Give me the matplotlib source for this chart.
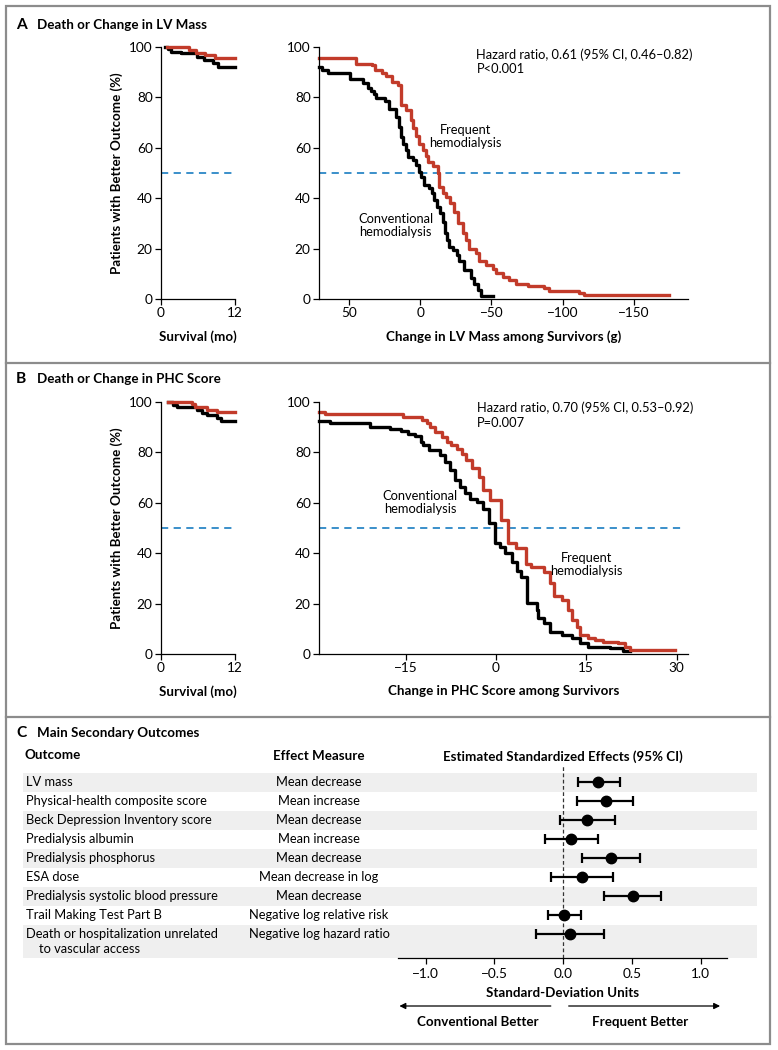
import matplotlib.pyplot as plt
import matplotlib.ticker as ticker
from matplotlib.patches import Rectangle
from matplotlib.transforms import blended_transform_factory

# ---- data ----
# panel A, survival part (months)
a_surv_freq_x = [0.9, 4.6, 5.6, 7.1, 8.7, 12]
a_surv_freq_y = [100, 98.8, 97.6, 96.8, 95.8, 95.8]
a_surv_conv_x = [0.6, 1.2, 1.7, 3.2, 5.8, 7.0, 8.4, 9.2, 12]
a_surv_conv_y = [100, 99.1, 98.2, 97.5, 96.2, 94.8, 93.5, 92.1, 92.1]

# panel A, change in LV mass (g)
a_freq_x = [70.9, 44.8, 34, 32, 27, 24, 20, 15.6, 13.3, 9.8, 6.3, 4.7, 2.8, 0.5, -1.9,
            -4.2, -5.4, -8.9, -12.4, -13.5, -15.9, -18.2, -21, -24, -26.3, -29.8, -32.2,
            -34, -39, -41.5, -46, -50.8, -53, -57.9, -62.6, -67.3, -75.5, -87.2, -90.7,
            -111.7, -115.2, -174.8]
a_freq_y = [95.6, 93.4, 92.7, 91, 89.7, 88.4, 86, 84.8, 77, 75, 71, 67.7, 64.6, 61.7, 59,
            56.7, 54.5, 52.8, 49.9, 44.6, 42.2, 40.6, 38, 34.7, 30, 26, 23.5,
            19.8, 18.2, 14.9, 13.6, 11.9, 10.3, 8.7, 7.7, 6.1, 5.3, 4.4, 3.3,
            2.4, 1.5, 1.5]
a_conv_x = [70.9, 69, 64.6, 49.4, 40, 36.6, 34.7, 32.6, 30.8, 25, 21.9, 16.8, 14.9, 13.3,
            11.7, 9.8, 8.6, 5.1, 2.8, 0.5, -0.7, -3, -6.5, -8.4, -9.6, -11.7, -14, -15.9,
            -17.2, -18.6, -20, -22.8, -25.9, -27.5, -31, -35.7, -38, -40.3, -42.7, -50.8]
a_conv_y = [92.1, 90.8, 89.7, 87.5, 85.8, 83.9, 82.6, 81.5, 79.6, 78.6, 75.2, 72.3, 68.3, 64.4,
            61.7, 59, 56.5, 55.1, 53.2, 50.5, 48.5, 45.2, 43.9, 42, 39.3, 36.7, 34, 30.7,
            26.1, 23.5, 20.8, 19.5, 17.5, 14.9, 11.6, 8.3, 6.1, 3.7, 1.3, 1.3]

# panel B, survival part (months)
b_surv_freq_x = [1.2, 5.0, 5.5, 7.4, 9.0, 12]
b_surv_freq_y = [100, 99.3, 98, 97, 96, 96]
b_surv_conv_x = [1.2, 2.0, 2.6, 5.8, 6.6, 7.4, 9.0, 9.8, 12]
b_surv_conv_y = [100, 99, 98, 96.8, 95.8, 94.7, 93.8, 92.5, 92.5]

# panel B, change in PHC score
b_freq_x = [-29.4, -28.4, -15.4, -12.3, -11.5, -11, -10.1, -9, -8.2, -7.4, -6.5, -5.7, -4.9,
            -4, -2.9, -2.2, -1, 0.9, 2.0, 3.4, 5.0, 5.9, 7.9, 9.0, 9.6, 10.9, 12.0, 12.6,
            13.4, 14.0, 15.3, 16.4, 17.8, 20.3, 21.4, 22.3, 29.7]
b_freq_y = [96, 95.1, 94.1, 93, 91.7, 90.1, 88.1, 86.1, 84.1, 82.8, 81.5, 79.5, 77.1,
            74, 70.3, 65, 61.3, 53.1, 44.2, 41.9, 35.9, 34.6, 32.6, 28, 23, 21.4, 17.4, 13.5,
            10.8, 7.5, 6.2, 5.5, 4.9, 4.2, 2.9, 1.6, 1.6]
b_conv_x = [-29.4, -27.5, -20.9, -17.6, -15.7, -14.6, -13.5, -12.5, -12.1, -11.2, -9.3, -8.5,
            -7.6, -6.8, -6, -5.1, -4.3, -3.2, -2.2, -1.1, -0.2, 0.6, 1.5, 2.6, 3.5, 4.2, 5.1,
            6.8, 7.0, 7.9, 9.0, 10.9, 12.6, 14.0, 15.3, 18.9, 21.1, 22.3]
b_conv_y = [92.5, 91.5, 90.1, 89.4, 88.5, 87.5, 86.4, 84.1, 82.8, 81.1, 78.9, 76.2,
            72.9, 69, 66.3, 63.7, 61.7, 60.4, 57.7, 51.8, 43.9, 42.5, 39.9, 36.6, 33, 30.6, 20.1,
            17.4, 14.1, 12.2, 8.9, 7.5, 6.2, 4.2, 2.9, 2.2, 1.0, 1.0]

# panel C, secondary outcomes
outcomes = ['LV mass', 'Physical-health composite score', 'Beck Depression Inventory score',
            'Predialysis albumin', 'Predialysis phosphorus', 'ESA dose',
            'Predialysis systolic blood pressure', 'Trail Making Test Part B',
            'Death or hospitalization unrelated\nto vascular access']
measures = ['Mean decrease', 'Mean increase', 'Mean decrease', 'Mean increase', 'Mean decrease',
            'Mean decrease in log', 'Mean decrease', 'Negative log relative risk',
            'Negative log hazard ratio']
effects = [0.25, 0.31, 0.17, 0.055, 0.35, 0.135, 0.505, 0.005, 0.048]
ci_low = [0.11, 0.10, -0.02, -0.13, 0.14, -0.09, 0.30, -0.11, -0.20]
ci_high = [0.41, 0.51, 0.38, 0.25, 0.56, 0.36, 0.71, 0.13, 0.30]

# ---- style ----
W, H = 778, 1050
RED = '#c23b2a'
BLUE = '#2b87c6'
BAND = '#efefef'
FRAME = '#8c8c8c'
FS = 9.3       # regular text
FSB = 9.6      # bold labels
FST = 9.8      # tick labels
plt.rcParams['font.family'] = ['Lato', 'DejaVu Sans']
plt.rcParams['font.size'] = FS
plt.rcParams['axes.linewidth'] = 0.9

fig = plt.figure(figsize=(W / 100, H / 100), dpi=100)


def px_axes(x0, y0, x1, y1):
    # axes placed by pixel box (top-left origin)
    return fig.add_axes([x0 / W, 1 - y1 / H, (x1 - x0) / W, (y1 - y0) / H])


bg = px_axes(0, 0, W, H)
bg.set_xlim(0, W)
bg.set_ylim(H, 0)
bg.axis('off')

# frame and panel dividers
bg.add_patch(Rectangle((6, 6), 764.5, 1037.5, fill=False, ec=FRAME, lw=1.6))
bg.plot([6, 770.5], [362.7, 362.7], color=FRAME, lw=1.6)
bg.plot([6, 770.5], [716.7, 716.7], color=FRAME, lw=1.6)

for letter, title, y in [('A', 'Death or Change in LV Mass', 25),
                         ('B', 'Death or Change in PHC Score', 379),
                         ('C', 'Main Secondary Outcomes', 733)]:
    bg.text(16, y, letter, fontsize=11.2, fontweight='bold', va='center')
    bg.text(37, y, title, fontsize=FSB, fontweight='bold', va='center')


def km_axes(ax, xlim, xticks, xlabel, ylabel=None, dash_end=1.0):
    ax.set_facecolor('none')
    for s in ['top', 'right']:
        ax.spines[s].set_visible(False)
    ax.set_xlim(xlim)
    ax.set_ylim(0, 100)
    ax.set_yticks(range(0, 101, 20))
    ax.set_xticks(xticks)
    ax.xaxis.set_major_formatter(ticker.FuncFormatter(lambda v, p: f'{v:.0f}'.replace('-', '\u2212')))
    ax.tick_params(direction='out', length=4, width=0.9, labelsize=FST, pad=2)
    ax.set_xlabel(xlabel, fontweight='bold', fontsize=FSB, labelpad=8)
    if ylabel:
        ax.set_ylabel(ylabel, fontweight='bold', fontsize=FSB, labelpad=4)
    ax.axhline(50, xmin=0, xmax=dash_end, color=BLUE, ls=(0, (4, 3)), lw=1.3)


def steps(ax, x, y, color):
    ax.step(x, y, where='post', color=color, lw=2.4, clip_on=False)


ylab = 'Patients with Better Outcome (%)'

# panel A
ax = px_axes(161, 47, 235, 299)
km_axes(ax, (0, 12), [0, 12], 'Survival (mo)', ylab)
steps(ax, a_surv_conv_x, a_surv_conv_y, 'black')
steps(ax, a_surv_freq_x, a_surv_freq_y, RED)

ax = px_axes(319, 47, 688, 299)
km_axes(ax, (71, -188), [50, 0, -50, -100, -150], 'Change in LV Mass among Survivors (g)',
        dash_end=0.99)
steps(ax, a_conv_x, a_conv_y, 'black')
steps(ax, a_freq_x, a_freq_y, RED)
ax.text(-39.5, 97, 'Hazard ratio, 0.61 (95% CI, 0.46\u20130.82)', va='center')
ax.text(-39.5, 91.2, 'P<0.001', va='center')
ax.text(-31.8, 64.4, 'Frequent\nhemodialysis', ha='center', va='center', linespacing=1.1)
ax.text(17.3, 29.2, 'Conventional\nhemodialysis', ha='center', va='center', linespacing=1.1)

# panel B
ax = px_axes(161, 402, 235, 654)
km_axes(ax, (0, 12), [0, 12], 'Survival (mo)', ylab)
steps(ax, b_surv_conv_x, b_surv_conv_y, 'black')
steps(ax, b_surv_freq_x, b_surv_freq_y, RED)

ax = px_axes(319, 402, 688, 654)
km_axes(ax, (-29.4, 31.9), [-15, 0, 15, 30], 'Change in PHC Score among Survivors',
        dash_end=0.99)
steps(ax, b_conv_x, b_conv_y, 'black')
steps(ax, b_freq_x, b_freq_y, RED)
ax.text(-3.2, 97.6, 'Hazard ratio, 0.70 (95% CI, 0.53\u20130.92)', va='center')
ax.text(-3.2, 91.7, 'P=0.007', va='center')
ax.text(-12.6, 60.1, 'Conventional\nhemodialysis', ha='center', va='center', linespacing=1.1)
ax.text(15.1, 35.5, 'Frequent\nhemodialysis', ha='center', va='center', linespacing=1.1)

# panel C: forest plot with table
fax = px_axes(398, 765, 727, 958)
fax.set_facecolor('none')
n = len(outcomes)
rows = list(range(n))
fax.set_xlim(-1.2, 1.19)
fax.set_ylim(n - 1 + 24 / 19, -17 / 19)
for s in ['top', 'right', 'left']:
    fax.spines[s].set_visible(False)
fax.set_yticks([])
fax.set_xticks([-1.0, -0.5, 0.0, 0.5, 1.0])
fax.xaxis.set_major_formatter(ticker.FuncFormatter(lambda v, p: f'{v:.1f}'.replace('-', '\u2212')))
fax.tick_params(axis='x', direction='out', length=4, width=0.9, labelsize=FST, pad=3)
fax.set_xlabel('Standard-Deviation Units', fontweight='bold', fontsize=FSB, labelpad=5)
fax.axvline(0, color='#333333', ls=(0, (3, 2)), lw=0.9)

err_lo = [e - lo for e, lo in zip(effects, ci_low)]
err_hi = [hi - e for e, hi in zip(effects, ci_high)]
fax.errorbar(effects, rows, xerr=[err_lo, err_hi], fmt='o', color='black', ms=7.5,
             elinewidth=1.6, capsize=3.8, capthick=1.6, zorder=3)

tr = blended_transform_factory(bg.transData, fax.transData)
for i in rows:
    if i % 2 == 0:
        bottom = i + 0.5 if i < n - 1 else n - 1 + 24 / 19
        bg.add_patch(Rectangle((23, i - 0.5), 734, bottom - (i - 0.5), transform=tr,
                               fc=BAND, ec='none', zorder=0))
    lines = outcomes[i].split('\n')
    bg.text(26, i, lines[0], transform=tr, va='center')
    for k, extra in enumerate(lines[1:], start=1):
        bg.text(39, i + 0.8 * k, extra, transform=tr, va='center')
    bg.text(319, i, measures[i], transform=tr, va='center', ha='center')

bg.text(25, 755, 'Outcome', fontweight='bold', fontsize=FSB, va='center')
bg.text(319, 756, 'Effect Measure', fontweight='bold', fontsize=FSB, va='center', ha='center')
bg.text(563, 757, 'Estimated Standardized Effects (95% CI)', fontweight='bold', fontsize=FSB,
        va='center', ha='center')

atr = blended_transform_factory(fax.transData, bg.transData)
arrow = dict(arrowstyle='-|>', color='black', lw=0.9, mutation_scale=9, shrinkA=0, shrinkB=0)
fax.annotate('', xy=(-1.19, 1006), xytext=(-0.09, 1006), xycoords=atr, textcoords=atr,
             arrowprops=arrow, annotation_clip=False)
fax.annotate('', xy=(1.14, 1006), xytext=(0.04, 1006), xycoords=atr, textcoords=atr,
             arrowprops=arrow, annotation_clip=False)
bg.text(478, 1022, 'Conventional Better', fontweight='bold', fontsize=FSB, ha='center', va='center')
bg.text(640, 1022, 'Frequent Better', fontweight='bold', fontsize=FSB, ha='center', va='center')

fig.savefig('out.png', dpi=100)
